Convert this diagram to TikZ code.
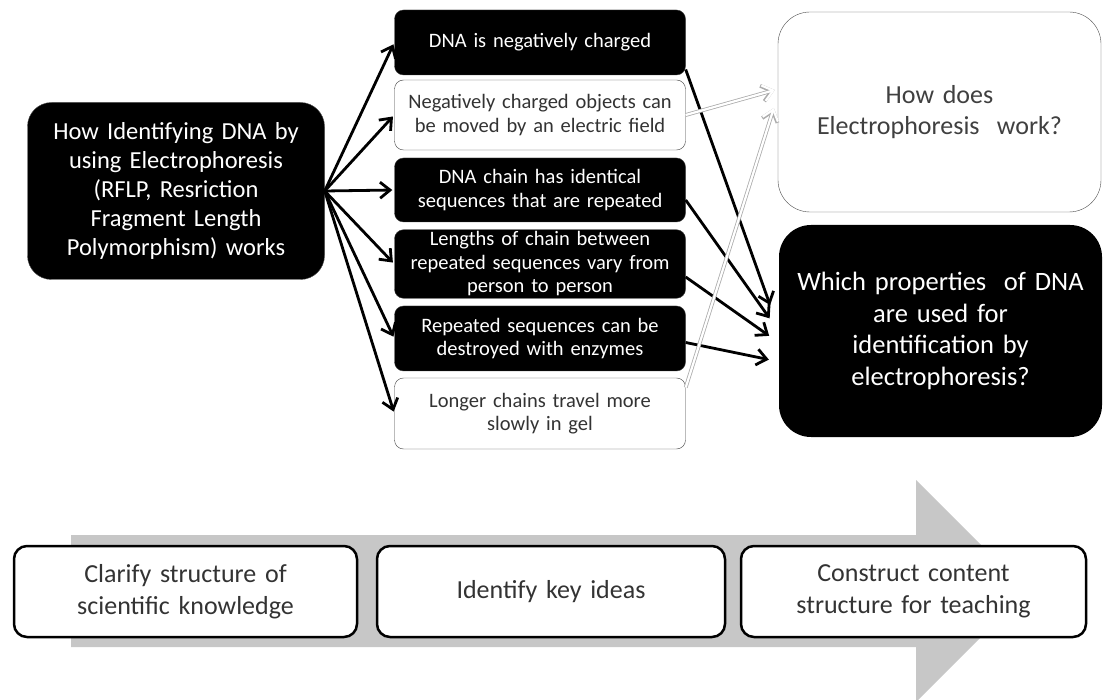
\documentclass[tikz,border=0pt]{standalone}
\usepackage{fontspec}
\setmainfont{Carlito}
\usetikzlibrary{arrows.meta, calc}
\begin{document}
\begin{tikzpicture}[x=1pt, y=-1pt,
      topic/.style={fill=black, draw=gray!60!black, text=white, rounded corners=24pt,
                  align=center, text width=285pt, minimum width=297pt, minimum height=177pt,
                  font=\fontsize{24.5}{29}\selectfont},
      fact/.style={fill=black, draw=gray!50!black, text=white, rounded corners=9pt,
                  align=center, inner sep=2pt, text width=284pt, minimum width=291pt,
                  font=\fontsize{20.5}{23.5}\selectfont},
      factw/.style={fact, fill=white, draw=black!75, text=black!80},
      quest/.style={rounded corners=32pt, align=center, text width=315pt, minimum width=323pt},
      stage/.style={draw=black, line width=2.5pt, fill=white, rounded corners=13pt,
                  align=center, text width=325pt, minimum height=91pt, text=black!80,
                  font=\fontsize{26}{31.5}\selectfont},
      arr/.style={-{Straight Barb[length=10pt, width=16pt]}, line width=2.8pt, shorten >=2pt},
      warr/.style={-{Straight Barb[length=10pt, width=16pt]}, white, line width=2.2pt,
                  preaction={draw=gray!65, line width=3.8pt}}]
    \useasboundingbox (0,0) rectangle (1103,700);
    \fill[black!22] (71,535) -- (916,535) -- (916,480) -- (1027,591) -- (916,702)
      -- (916,647) -- (71,647) -- cycle;
    \node[topic] (how) at (176,191) {How Identifying DNA by\\using Electrophoresis\\(RFLP, Resriction\\Fragment Length\\Polymorphism) works};
    \node[fact, minimum height=65pt] (neg) at (540,42.5) {DNA is negatively charged};
    \node[factw, minimum height=70pt] (field) at (540,115) {Negatively charged objects can\\be moved by an electric field};
    \node[fact, minimum height=64pt] (rep) at (540,190) {DNA chain has identical\\sequences that are repeated};
    \node[fact, minimum height=66pt] (vary) at (540,264) {Lengths of chain between\\repeated sequences vary from\\person to person};
    \node[fact, minimum height=65pt] (enz) at (540,338.5) {Repeated sequences can be\\destroyed with enzymes};
    \node[factw, minimum height=71pt] (gel) at (540,413.5) {Longer chains travel more\\slowly in gel};
    \node[quest, draw=black!70, fill=white, text=black!75, minimum height=200pt,
          font=\fontsize{26}{31}\selectfont] (ed) at (939.5,112) {How does\\Electrophoresis~ work?};
    \node[quest, fill=black, text=white, minimum height=212pt,
          font=\fontsize{26.5}{31.5}\selectfont] (which) at (940.5,331) {Which properties~ of DNA\\are used for\\identification by\\electrophoresis?};
    \node[stage, minimum width=343pt] (clarify) at (185.5,591.5) {Clarify structure of\\scientific knowledge};
    \node[stage, minimum width=348pt] (keyid) at (551,591.5) {Identify key ideas};
    \node[stage, minimum width=345pt] (construct) at (913.5,591.5) {Construct content\\structure for teaching};
    \draw[arr] (how.east) -- (neg.west);
    \draw[arr] (how.east) -- (field.west);
    \draw[arr] (how.east) -- (rep.west);
    \draw[arr] (how.east) -- (vary.west);
    \draw[arr] (how.east) -- (enz.west);
    \draw[arr] (how.east) -- (gel.west);
    \draw[arr] ($(neg.east)+(0,27)$) -- ($(which.west)+(-8,-24)$);
    \draw[arr] ($(rep.east)+(0,10)$) -- ($(which.west)+(-8,-11)$);
    \draw[arr] ($(vary.east)+(0,13)$) -- ($(which.west)+(-8,6)$);
    \draw[arr] ($(enz.east)+(0,4)$) -- ($(which.west)+(-8,29)$);
    \draw[warr] (field.east) -- ($(ed.west)+(-3,-22)$);
    \draw[warr] ($(gel.east)+(0,-26)$) -- ($(ed.west)+(-4,-4)$);
  \end{tikzpicture}
\end{document}
